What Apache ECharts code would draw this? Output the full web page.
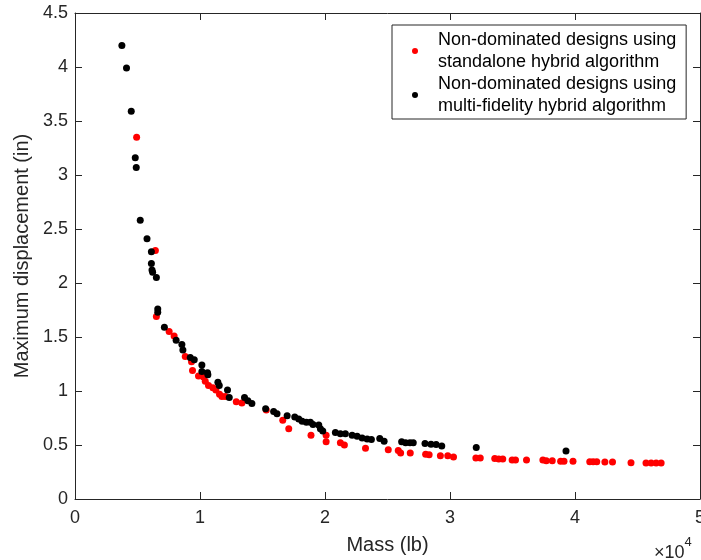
<!DOCTYPE html>
<html>
<head>
<meta charset="utf-8">
<script src="https://cdn.jsdelivr.net/npm/echarts@6/dist/echarts.min.js"></script>
<style>html,body{margin:0;padding:0;background:#fff;}#c{width:701px;height:560px;}</style>
</head>
<body>
<div id="c"></div>
<script>
// Mass (lb), maximum displacement (in)
var standalone = [
  [4930,3.35],[6430,2.30],[6510,1.69],[7530,1.55],[7930,1.51],[8820,1.32],[9320,1.27],[9400,1.19],
  [9880,1.14],[10280,1.13],[10420,1.09],[10680,1.05],[11030,1.03],[11270,1.01],[11560,0.97],[11750,0.95],
  [12020,0.95],[12900,0.90],[13350,0.89],[15300,0.825],[16620,0.73],[17100,0.65],[18880,0.59],[20090,0.59],
  [20090,0.53],[21230,0.52],[21550,0.50],[23240,0.47],[25060,0.455],[25860,0.45],[26050,0.425],[26820,0.425],
  [28050,0.415],[28330,0.41],[29230,0.40],[29820,0.40],[30280,0.39],[32070,0.38],[32420,0.38],[33580,0.375],
  [33900,0.37],[34220,0.37],[34970,0.36],[35240,0.36],[36120,0.36],[37430,0.36],[37700,0.355],[38180,0.355],
  [38850,0.35],[39120,0.35],[39840,0.35],[41180,0.345],[41450,0.345],[41740,0.345],[42390,0.342],[43000,0.342],
  [44480,0.335],[45680,0.333],[46090,0.333],[46490,0.333],[46890,0.333]
];
var multiFidelity = [
  [3750,4.20],[4120,3.99],[4500,3.59],[4820,3.16],[4900,3.07],[5220,2.58],[5760,2.41],[6110,2.29],
  [6110,2.18],[6160,2.12],[6210,2.10],[6510,2.05],[6620,1.76],[6620,1.73],[7150,1.59],[8090,1.47],
  [8550,1.43],[8630,1.38],[9220,1.31],[9540,1.29],[10150,1.24],[10150,1.18],[10600,1.17],[10630,1.15],
  [11430,1.08],[11540,1.05],[12200,1.01],[12340,0.94],[13560,0.94],[13830,0.91],[14150,0.885],[15250,0.835],
  [15890,0.81],[16160,0.79],[16970,0.77],[17580,0.76],[17900,0.74],[18170,0.72],[18510,0.71],[18830,0.71],
  [19040,0.69],[19500,0.685],[19630,0.65],[19820,0.63],[20830,0.615],[21230,0.605],[21630,0.605],[22170,0.59],
  [22570,0.58],[22970,0.565],[23370,0.555],[23710,0.55],[24380,0.56],[24730,0.535],[26130,0.53],[26450,0.52],
  [26800,0.52],[27060,0.52],[28000,0.515],[28480,0.507],[28890,0.505],[29340,0.49],[32100,0.477],[39280,0.445]
];
var seriesNames = ['standalone', 'multifidelity'];
var legendLabels = [
  'Non-dominated designs using\nstandalone hybrid algorithm',
  'Non-dominated designs using\nmulti-fidelity hybrid algorithm'
];
var xTitle = 'Mass (lb)';
var yTitle = 'Maximum displacement (in)';

var FONT = '"Liberation Sans", Arial, Helvetica, sans-serif';
var AX = '#262626';
var chart = echarts.init(document.getElementById('c'));
var axisCommon = {
  axisLine: {show: true, onZero: false, lineStyle: {color: AX, width: 1}},
  axisTick: {show: true, inside: true, length: 7, lineStyle: {color: AX}},
  splitLine: {show: false}
};
chart.setOption({
  animation: false,
  backgroundColor: '#fff',
  grid: {left: 75, right: 1, top: 13, bottom: 61, containLabel: false, outerBoundsMode: 'none'},
  legend: {
    left: 392, top: 25, orient: 'vertical',
    data: seriesNames,
    formatter: function (n) { return legendLabels[seriesNames.indexOf(n)]; },
    icon: 'circle', itemWidth: 6, itemHeight: 6, itemGap: 0,
    padding: [4, 10, 2, 20],
    borderColor: AX, borderWidth: 1, backgroundColor: '#fff',
    textStyle: {fontFamily: FONT, fontSize: 18, lineHeight: 22, color: '#000', padding: [0, 0, 0, 15]}
  },
  xAxis: [
    Object.assign({
      type: 'value', min: 0, max: 50000, interval: 10000, position: 'bottom',
      name: xTitle, nameLocation: 'middle', nameGap: 36,
      nameTextStyle: {fontFamily: FONT, fontSize: 20, color: AX},
      axisLabel: {fontFamily: FONT, fontSize: 18, color: AX, margin: 10,
        formatter: function (v) { return String(v / 10000); }}
    }, axisCommon),
    Object.assign({
      type: 'value', min: 0, max: 50000, interval: 10000, position: 'top',
      axisLabel: {show: false}
    }, axisCommon)
  ],
  yAxis: [
    Object.assign({
      type: 'value', min: 0, max: 4.5, interval: 0.5, position: 'left',
      name: yTitle, nameLocation: 'middle', nameGap: 42,
      nameTextStyle: {fontFamily: FONT, fontSize: 20, color: AX},
      axisLabel: {fontFamily: FONT, fontSize: 18, color: AX, margin: 7}
    }, axisCommon),
    Object.assign({
      type: 'value', min: 0, max: 4.5, interval: 0.5, position: 'right',
      axisLabel: {show: false}
    }, axisCommon)
  ],
  graphic: [{
    type: 'text', left: 654, top: 536,
    style: {
      text: '{a|×10}{b|4}',
      rich: {
        a: {fontFamily: FONT, fontSize: 18, fill: AX, padding: [8, 0, 0, 0]},
        b: {fontFamily: FONT, fontSize: 13, fill: AX, verticalAlign: 'top'}
      }
    }
  }],
  series: [
    {name: seriesNames[0], type: 'scatter', data: standalone, symbol: 'circle', symbolSize: 7,
     itemStyle: {color: '#ff0000', opacity: 1}},
    {name: seriesNames[1], type: 'scatter', data: multiFidelity, symbol: 'circle', symbolSize: 7,
     itemStyle: {color: '#000000', opacity: 1}}
  ]
});
</script>
</body>
</html>
